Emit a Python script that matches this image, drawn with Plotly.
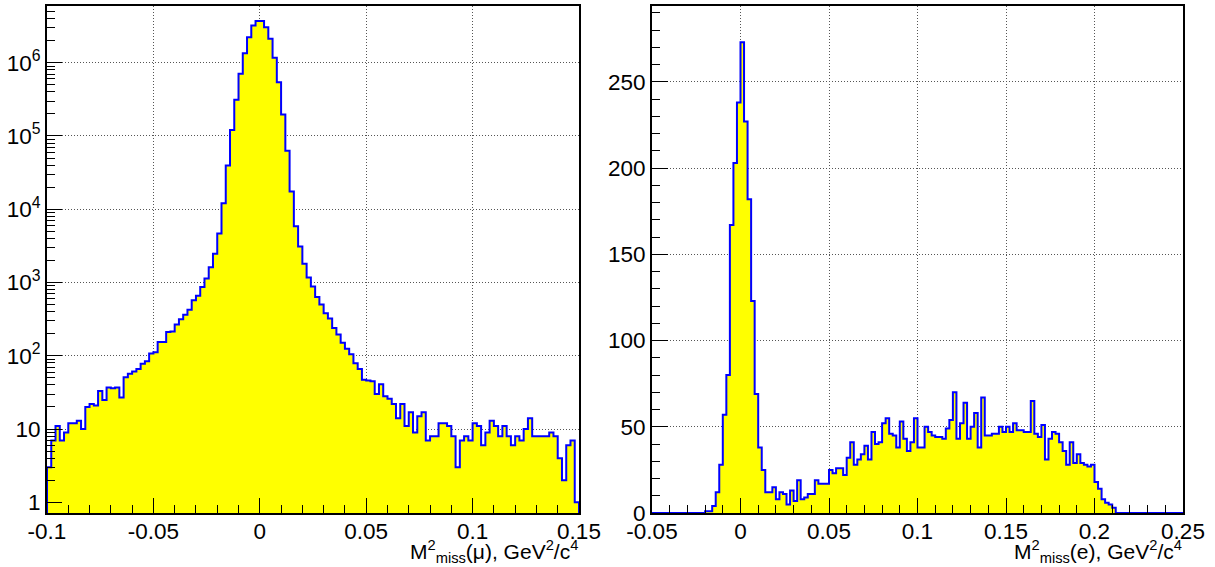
import numpy as np
import plotly.graph_objects as go

W, H = 1215, 567

# ---- M^2_miss(mu): 125 bins of 0.002 GeV^2/c^4 from -0.1 to 0.15 ----
mu_range = (-0.1, 0.15)
mu_counts = [
    3, 7, 11, 7, 9, 12, 12, 13, 10, 20,
    22, 21, 33, 25, 37, 36, 37, 27, 51, 57,
    61, 66, 78, 84, 107, 112, 154, 154, 211, 215,
    268, 314, 364, 426, 572, 662, 870, 1130, 1620, 2460,
    4650, 12100, 39600, 121000, 311000, 705000, 1350000, 2230000, 3230000, 3700000,
    3700000, 3040000, 2130000, 1170000, 540000, 196000, 63000, 17400, 5840, 3100,
    1800, 1170, 880, 632, 500, 380, 322, 240, 195, 150,
    125, 105, 79, 66, 47, 46, 45, 30, 41, 28,
    26, 22, 14, 22, 11, 17, 9, 15, 17, 7,
    8, 8, 12, 12, 11, 8, 3, 7, 8, 7,
    12, 11, 6, 9, 13, 11, 8, 11, 8, 6,
    8, 7, 10, 14, 8, 8, 8, 8, 9, 8,
    4, 2, 6, 7, 1,
]

# ---- M^2_miss(e): 150 bins of 0.002 GeV^2/c^4 from -0.05 to 0.25 ----
e_range = (-0.05, 0.25)
e_counts = [
    0, 0, 0, 0, 0, 0, 0, 0, 0, 0,
    0, 0, 0, 0, 0, 1, 1, 4, 12, 28,
    57, 80, 167, 203, 238, 273, 227, 182, 123, 69,
    38, 25, 12, 12, 15, 8, 12, 11, 5, 13,
    7, 19, 8, 9, 11, 11, 19, 17, 17, 17,
    25, 23, 26, 26, 22, 32, 41, 28, 31, 34,
    39, 31, 47, 40, 41, 52, 55, 46, 45, 38,
    53, 43, 36, 41, 55, 38, 38, 50, 47, 45,
    44, 44, 43, 49, 54, 70, 43, 52, 64, 43,
    50, 58, 38, 67, 45, 45, 46, 46, 50, 47,
    50, 47, 52, 48, 48, 47, 47, 65, 46, 44,
    51, 31, 43, 47, 46, 41, 36, 28, 41, 29,
    34, 29, 28, 27, 28, 18, 14, 8, 6, 5,
    3, 0, 0, 0, 0, 0, 0, 0, 0, 0,
    0, 0, 0, 0, 0, 0, 0, 0, 0, 0,
]

mu_xticks = [-0.1, -0.05, 0, 0.05, 0.1, 0.15]
mu_xticktext = ["-0.1", "-0.05", "0", "0.05", "0.1", "0.15"]
e_xticks = [-0.05, 0, 0.05, 0.1, 0.15, 0.2, 0.25]
e_xticktext = ["-0.05", "0", "0.05", "0.1", "0.15", "0.2", "0.25"]
log_yticks = [1, 10, 100, 1000, 10000, 100000, 1000000]
log_yticktext = ["1", "10", "10<sup>2</sup>", "10<sup>3</sup>",
                 "10<sup>4</sup>", "10<sup>5</sup>", "10<sup>6</sup>"]
lin_yticks = [0, 50, 100, 150, 200, 250]
lin_yticktext = ["0", "50", "100", "150", "200", "250"]

mu_title = "M<sup>2</sup><sub>miss</sub>(\u03bc), GeV<sup>2</sup>/c<sup>4</sup>"
e_title = "M<sup>2</sup><sub>miss</sub>(e), GeV<sup>2</sup>/c<sup>4</sup>"

FONT = "Liberation Sans, Arial, sans-serif"
FILL = "#ffff00"
EDGE = "#0000ff"
GRID = "#555555"


def outline(lo, hi, counts, floor):
    """Closed step polygon of a histogram, for hv-shaped drawing."""
    edges = np.linspace(lo, hi, len(counts) + 1)
    c = np.asarray(counts, dtype=float)
    x = np.concatenate([[edges[0]], edges[:-1], [edges[-1], edges[-1]]])
    y = np.concatenate([[floor], c, [c[-1], floor]])
    return x, y


def px_x(p):
    return p / W


def px_y(p):
    return 1 - p / H


fig = go.Figure()

mx, my = outline(*mu_range, mu_counts, 0.3)
fig.add_trace(go.Scatter(x=mx, y=my, mode="lines", line=dict(shape="hv", color=EDGE, width=2),
                         fill="toself", fillcolor=FILL, xaxis="x", yaxis="y",
                         showlegend=False, hoverinfo="skip"))

ex, ey = outline(*e_range, e_counts, 0)
fig.add_trace(go.Scatter(x=ex, y=ey, mode="lines", line=dict(shape="hv", color=EDGE, width=2),
                         fill="toself", fillcolor=FILL, xaxis="x2", yaxis="y2",
                         showlegend=False, hoverinfo="skip"))

y_dom = [px_y(513), px_y(6)]
common = dict(
    showline=True, linecolor="black", linewidth=2, mirror=True,
    ticks="inside", tickcolor="black", tickwidth=1, automargin=False,
    showgrid=True, gridcolor=GRID, gridwidth=1, griddash="1px,2px",
    zeroline=False, tickfont=dict(family=FONT, size=22.5, color="black"),
)

minor_x = dict(ticks="inside", ticklen=8, tickcolor="black", dtick=0.01, tick0=0, showgrid=False)

fig.update_layout(
    width=W, height=H,
    margin=dict(l=0, r=0, t=0, b=0, autoexpand=False),
    paper_bgcolor="white", plot_bgcolor="white",
    font=dict(family=FONT, color="black"),
    xaxis=dict(domain=[px_x(47), px_x(579)], range=list(mu_range), anchor="y",
               tickmode="array", tickvals=mu_xticks, ticktext=mu_xticktext,
               ticklen=15, ticklabelstandoff=-3, minor=minor_x, **common),
    yaxis=dict(domain=y_dom, type="log", range=[-0.146, 6.774], anchor="x",
               tickmode="array", tickvals=log_yticks, ticktext=log_yticktext,
               ticklen=15,
               minor=dict(ticks="inside", ticklen=8, tickcolor="black", showgrid=False,
                          tickvals=[m * 10 ** d for d in range(0, 7) for m in range(2, 10)]),
               **common),
    xaxis2=dict(domain=[px_x(652), px_x(1183)], range=list(e_range), anchor="y2",
                tickmode="array", tickvals=e_xticks, ticktext=e_xticktext,
                ticklen=15, ticklabelstandoff=-3, minor=minor_x, **common),
    yaxis2=dict(domain=y_dom, range=[0, 294], anchor="x2",
                tickmode="array", tickvals=lin_yticks, ticktext=lin_yticktext,
                ticklen=16,
                minor=dict(ticks="inside", ticklen=8, tickcolor="black", dtick=10, tick0=0, showgrid=False),
                **common),
    annotations=[
        dict(text=mu_title, xref="paper", yref="paper", x=px_x(579), y=0,
             xanchor="right", yanchor="bottom", showarrow=False, borderpad=0,
             font=dict(family=FONT, size=21, color="black")),
        dict(text=e_title, xref="paper", yref="paper", x=px_x(1183), y=0,
             xanchor="right", yanchor="bottom", showarrow=False, borderpad=0,
             font=dict(family=FONT, size=21, color="black")),
    ],
)

fig.write_html("out.html")
